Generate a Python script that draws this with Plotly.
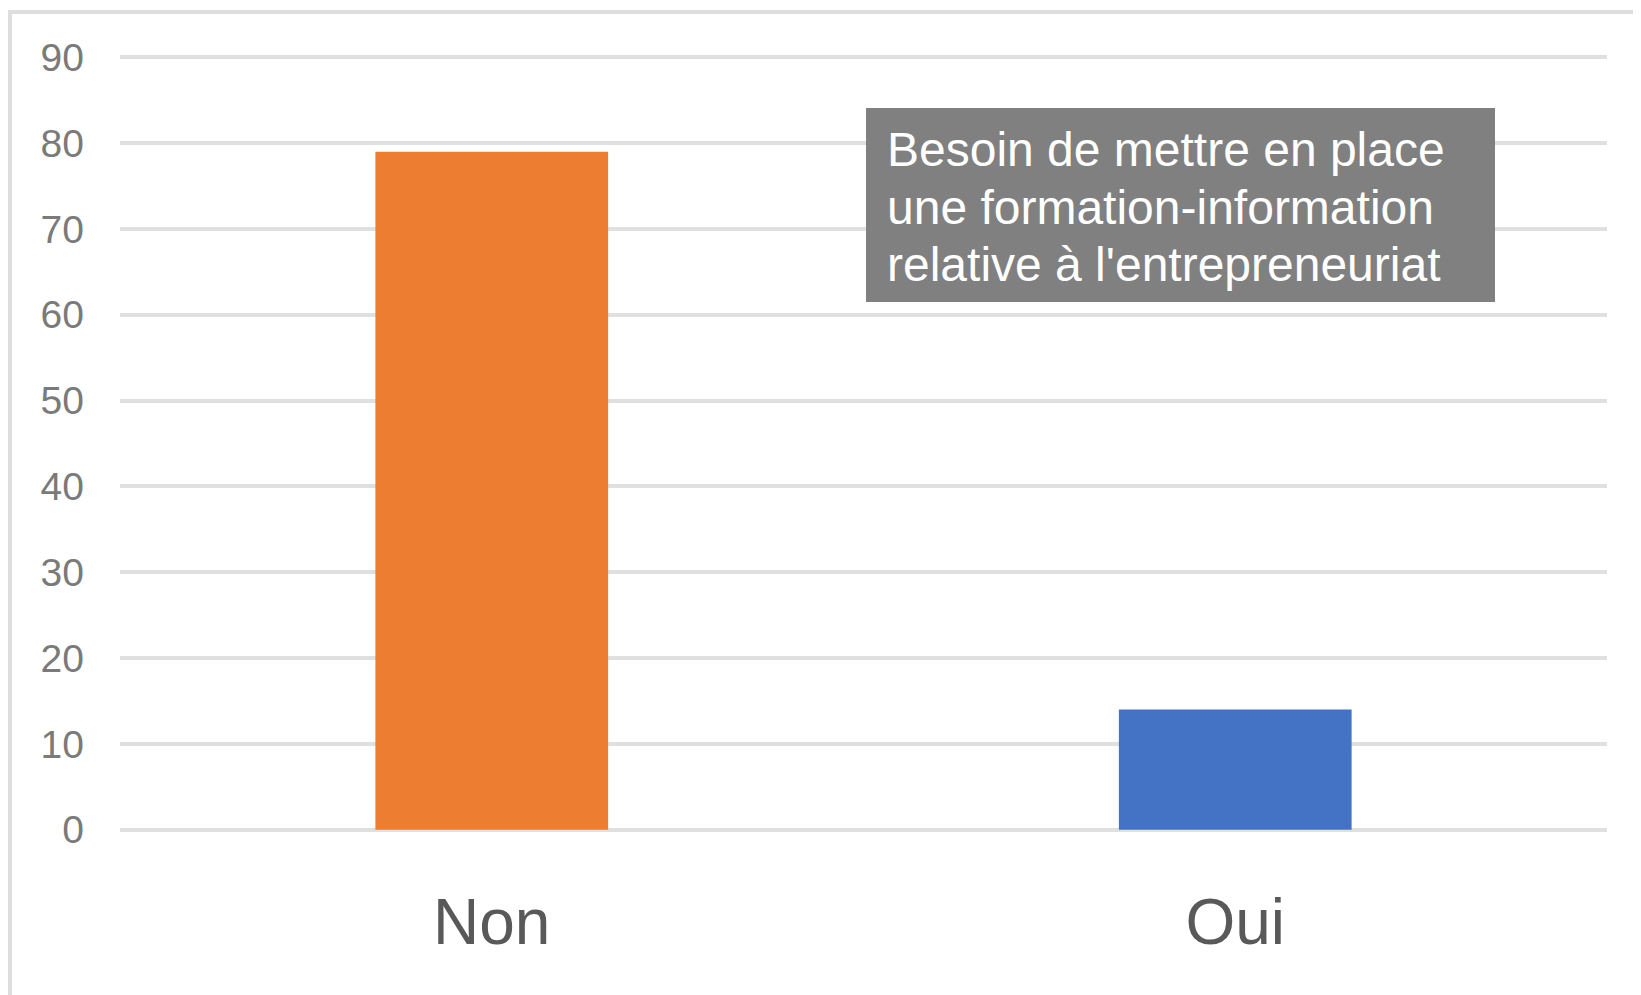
import plotly.graph_objects as go

categories = ["Non", "Oui"]
values = [79, 14]
bar_colors = ["#ED7D31", "#4472C4"]
y_ticks = [0, 10, 20, 30, 40, 50, 60, 70, 80, 90]
note_lines = ["Besoin de mettre en place", "une formation-information", "relative à l'entrepreneuriat"]

OFF = 8  # page body margin
W, H = 1641 - OFF, 995 - OFF
ML, MT = 120 - OFF, 52 - OFF
MR = 1641 - 1607
MB = 995 - 835.2
PW, PH = W - ML - MR, H - MT - MB


def px(x):
    return (x - OFF - ML) / PW


def py(y):
    return (H - MB - (y - OFF)) / PH


fig = go.Figure()
fig.add_trace(go.Bar(
    x=categories, y=values, marker=dict(color=bar_colors, line=dict(width=0)),
    width=0.313, hoverinfo="skip", showlegend=False,
))

shapes = [
    dict(type="rect", xref="paper", yref="paper", x0=px(10), x1=px(1700), y0=py(1100), y1=py(12),
         line=dict(color="#DEDEDE", width=4), fillcolor="rgba(0,0,0,0)", layer="below"),
    dict(type="rect", xref="paper", yref="paper", x0=px(866), x1=px(1495), y0=py(302), y1=py(108),
         line=dict(width=0), fillcolor="#808080", layer="above"),
]

annotations = []
centers = [150, 207.5, 265]
for line, cy in zip(note_lines, centers):
    annotations.append(dict(
        text=line, xref="paper", yref="paper", x=px(885), y=py(cy), xanchor="left", yanchor="middle",
        showarrow=False, font=dict(family="Liberation Sans, Arial", size=48, color="#FFFFFF"),
    ))

fig.update_layout(
    width=W, height=H,
    margin=dict(l=ML, r=MR, t=MT, b=MB),
    paper_bgcolor="#FFFFFF", plot_bgcolor="#FFFFFF",
    shapes=shapes, annotations=annotations,
    xaxis=dict(
        showgrid=False, zeroline=False, showline=False, ticks="",
        tickfont=dict(family="Liberation Sans, Arial", size=64, color="#595959"),
        ticklabelstandoff=44,
    ),
    yaxis=dict(
        range=[-0.62, 90.62], tickvals=y_ticks, ticktext=[str(v) for v in y_ticks],
        showgrid=True, gridcolor="#E0E0E0", gridwidth=4, zeroline=False, showline=False, ticks="",
        tickfont=dict(family="Liberation Sans, Arial", size=39, color="#7A7A7A"),
        ticklabelstandoff=35,
    ),
)

fig.write_html("out.html")
